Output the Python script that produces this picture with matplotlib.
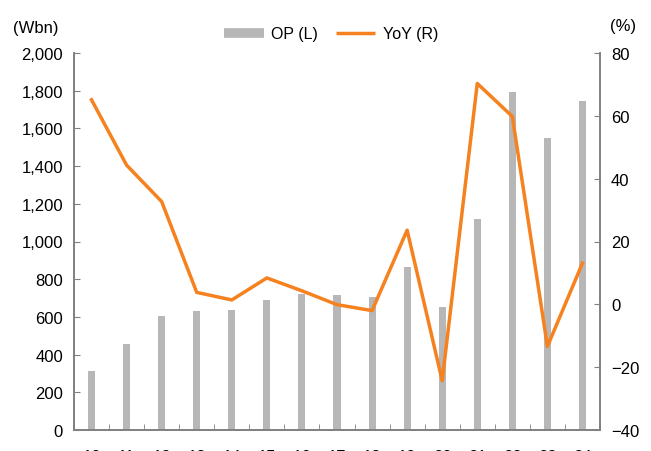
import numpy as np
import matplotlib
matplotlib.use('Agg')
from matplotlib import pyplot as plt
from matplotlib.lines import Line2D

plt.rcParams['font.family'] = ['Liberation Sans Narrow', 'Liberation Sans', 'DejaVu Sans']

# data
years = ['10', '11', '12', '13', '14', '15', '16', '17', '18', '19', '20', '21', '22', '23', '24']
op = [312, 455, 605, 630, 636, 690, 720, 718, 705, 865, 655, 1118, 1792, 1548, 1745]
yoy = [65.1, 44.3, 32.7, 3.8, 1.4, 8.4, 4.3, -0.1, -2.0, 23.6, -24.3, 70.3, 59.8, -13.4, 13.1]

bar_color = '#b7b7b7'
line_color = '#f5821f'
axis_color = '#808080'

fig = plt.figure(figsize=(6.51, 4.52), dpi=100)
ax = fig.add_axes([74 / 651, 1 - 431 / 452, (600 - 74) / 651, (431 - 54) / 452])
ax2 = ax.twinx()

x = np.arange(len(years))
ax.bar(x, op, width=0.2, color=bar_color, zorder=2)
ax2.plot(x, yoy, color=line_color, linewidth=2.5, zorder=3)

ax.set_xlim(-0.5, len(years) - 0.5)
ax.set_ylim(0, 2000)
ax.set_yticks(np.arange(0, 2001, 200))
ax.set_yticklabels([f'{v:,}' for v in range(0, 2001, 200)])
ax2.set_ylim(-40, 80)
ax2.set_yticks(np.arange(-40, 81, 20))

ax.set_xticks(x)
ax.set_xticklabels(years)
ax.set_xticks(np.arange(-0.5, len(years), 1), minor=True)
ax.tick_params(axis='x', which='major', length=0, pad=14, labelsize=12)
ax.tick_params(axis='x', which='minor', length=4, direction='in', color=axis_color)
ax.tick_params(axis='y', direction='in', length=4, color=axis_color, labelsize=12, pad=8)
ax2.tick_params(axis='y', direction='in', length=4, color=axis_color, labelsize=12, pad=8)

for a in (ax, ax2):
    a.spines['top'].set_visible(False)
    for s in ('left', 'right', 'bottom'):
        a.spines[s].set_color(axis_color)
        a.spines[s].set_linewidth(1.2)
ax.set_zorder(ax2.get_zorder() - 1)
ax2.patch.set_visible(False)

fig.text(13 / 651, 1 - 28 / 452, '(Wbn)', fontsize=12, va='center', ha='left')
fig.text(636 / 651, 1 - 27 / 452, '(%)', fontsize=12, va='center', ha='right')

handles = [Line2D([], [], color=bar_color, linewidth=7, solid_capstyle='butt'),
           Line2D([], [], color=line_color, linewidth=2.5, solid_capstyle='butt')]
fig.legend(handles, ['OP (L)', 'YoY (R)'], loc='center', bbox_to_anchor=(331 / 651, 1 - 35 / 452),
           ncol=2, frameon=False, fontsize=11.5, handlelength=2.5, columnspacing=1.1,
           handletextpad=0.45)

fig.savefig('out.png', dpi=100)
